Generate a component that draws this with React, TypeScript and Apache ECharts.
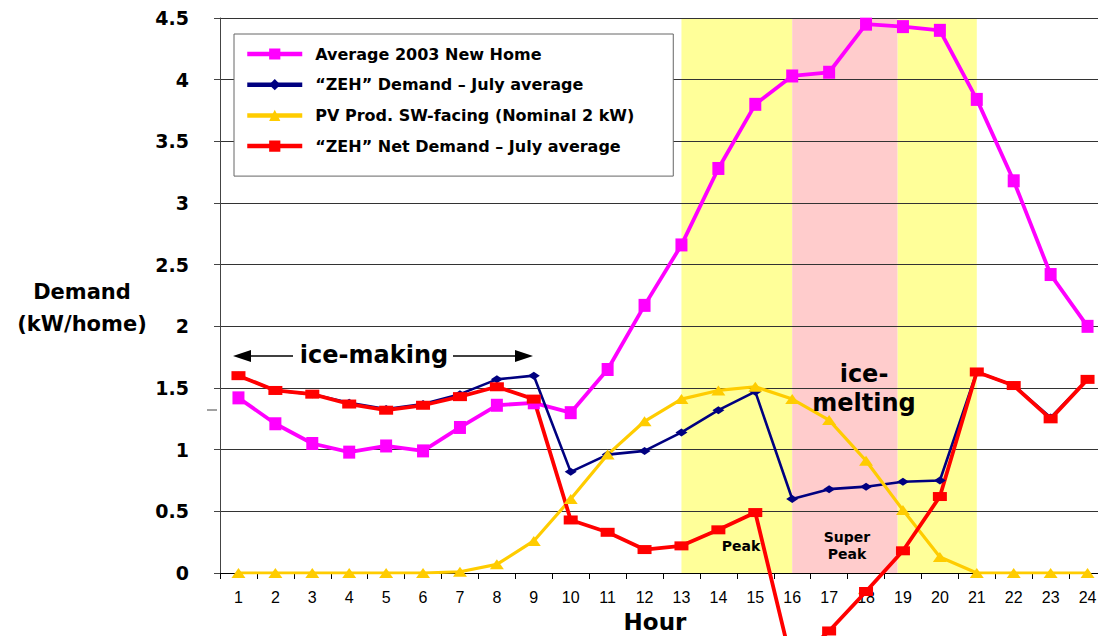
import React, { useEffect, useRef } from 'react';
import * as echarts from 'echarts';

// ---- Data ----
const hours = ['1', '2', '3', '4', '5', '6', '7', '8', '9', '10', '11', '12', '13', '14', '15', '16', '17', '18', '19', '20', '21', '22', '23', '24'];
const avgNewHome = [1.42, 1.21, 1.05, 0.98, 1.03, 0.99, 1.18, 1.36, 1.38, 1.3, 1.65, 2.17, 2.66, 3.28, 3.8, 4.03, 4.06, 4.45, 4.43, 4.4, 3.84, 3.18, 2.42, 2.0];
const zehDemand = [1.6, 1.48, 1.45, 1.38, 1.33, 1.37, 1.45, 1.57, 1.6, 0.82, 0.96, 0.99, 1.14, 1.32, 1.47, 0.6, 0.68, 0.7, 0.74, 0.75, 1.63, 1.52, 1.26, 1.57];
const pvProd = [0, 0, 0, 0, 0, 0, 0.01, 0.07, 0.26, 0.6, 0.96, 1.23, 1.41, 1.48, 1.51, 1.41, 1.24, 0.91, 0.51, 0.13, 0, 0, 0, 0];
const zehNet = [1.6, 1.48, 1.45, 1.37, 1.32, 1.36, 1.43, 1.51, 1.41, 0.43, 0.33, 0.19, 0.22, 0.35, 0.49, -0.75, -0.47, -0.15, 0.18, 0.62, 1.63, 1.52, 1.25, 1.57];

const seriesNames = [
  'Average 2003 New Home',
  '\u201CZEH\u201D Demand \u2013 July average',
  'PV Prod. SW-facing (Nominal 2 kW)',
  '\u201CZEH\u201D Net Demand \u2013 July average',
];

// time-of-use bands (hour positions)
const peakBands: [number, number][] = [[13, 16], [18.85, 21]];
const superPeakBand: [number, number] = [16, 18.85];

const yMin = 0;
const yMax = 4.5;
const yStep = 0.5;

const BOLD = 'DejaVu Sans';

export default function App() {
  const ref = useRef<HTMLDivElement>(null);

  useEffect(() => {
    if (!ref.current) return;
    const chart = echarts.init(ref.current, undefined, { renderer: 'svg' });

    const bandData: any[] = [
      ...peakBands.map(([a, b]) => [
        { xAxis: a, itemStyle: { color: '#FFFF99' } },
        { xAxis: b },
      ]),
      [
        { xAxis: superPeakBand[0], itemStyle: { color: '#FFCCCC' } },
        { xAxis: superPeakBand[1] },
      ],
    ];

    const option: any = {
      animation: false,
      grid: { left: 220, top: 18, width: 886, height: 555 },
      legend: {
        orient: 'vertical',
        left: 234,
        top: 34,
        padding: [12, 39, 22, 11],
        itemWidth: 55,
        itemHeight: 14,
        itemGap: 14.7,
        backgroundColor: '#ffffff',
        borderColor: '#666666',
        borderWidth: 1,
        data: seriesNames,
        lineStyle: { width: 4.5 },
        textStyle: {
          color: '#000',
          fontFamily: BOLD,
          fontWeight: 'bold',
          fontSize: 16,
          padding: [0, 0, 0, 8],
        },
      },
      xAxis: [
        {
          type: 'category',
          data: hours,
          boundaryGap: true,
          z: 1.5,
          axisLine: { show: true, lineStyle: { color: '#000', width: 1 } },
          axisTick: { show: true, length: 6, lineStyle: { color: '#000' } },
          axisLabel: { color: '#000', fontFamily: 'Liberation Sans', fontSize: 16, margin: 16 },
          splitLine: { show: false },
        },
        { type: 'value', min: 0.5, max: 24.5, show: false },
      ],
      yAxis: {
        type: 'value',
        min: yMin,
        max: yMax,
        interval: yStep,
        z: 1.5,
        axisLine: { show: true, lineStyle: { color: '#444', width: 1 } },
        axisTick: { show: true, length: 6, lineStyle: { color: '#444' } },
        axisLabel: { color: '#000', fontFamily: BOLD, fontWeight: 'bold', fontSize: 19, margin: 31 },
        splitLine: { show: true, lineStyle: { color: '#333', width: 1 } },
      },
      series: [
        {
          type: 'line',
          xAxisIndex: 1,
          data: [],
          silent: true,
          markArea: { silent: true, data: bandData },
        },
        {
          name: seriesNames[0],
          type: 'line',
          data: avgNewHome,
          symbol: 'rect',
          symbolSize: [12, 13],
          itemStyle: { color: '#FF00FF' },
          lineStyle: { color: '#FF00FF', width: 3.8 },
        },
        {
          name: seriesNames[1],
          type: 'line',
          data: zehDemand,
          symbol: 'diamond',
          symbolSize: [12, 8],
          itemStyle: { color: '#000080' },
          lineStyle: { color: '#000080', width: 2.6 },
        },
        {
          name: seriesNames[2],
          type: 'line',
          data: pvProd,
          symbol: 'triangle',
          symbolSize: [14, 10],
          itemStyle: { color: '#FFCC00' },
          lineStyle: { color: '#FFCC00', width: 3.2 },
        },
        {
          name: seriesNames[3],
          type: 'line',
          data: zehNet,
          clip: false,
          symbol: 'rect',
          symbolSize: [14, 9],
          itemStyle: { color: '#FF0000' },
          lineStyle: { color: '#FF0000', width: 3.8 },
        },
      ],
      graphic: [
        {
          type: 'text', x: 82, y: 308, z: 100,
          style: { text: 'Demand\n(kW/home)', align: 'center', verticalAlign: 'middle', fontFamily: BOLD, fontWeight: 'bold', fontSize: 21, lineHeight: 32, fill: '#000' },
        },
        {
          type: 'text', x: 655, y: 622, z: 100,
          style: { text: 'Hour', align: 'center', verticalAlign: 'middle', fontFamily: BOLD, fontWeight: 'bold', fontSize: 23, fill: '#000' },
        },
        {
          type: 'text', x: 374, y: 355, z: 100,
          style: { text: 'ice-making', align: 'center', verticalAlign: 'middle', fontFamily: BOLD, fontWeight: 'bold', fontSize: 24, fill: '#000' },
        },
        { type: 'line', z: 100, shape: { x1: 248, y1: 356, x2: 293, y2: 356 }, style: { stroke: '#000', lineWidth: 1.5 } },
        { type: 'polygon', z: 100, shape: { points: [[233, 356], [251, 350], [251, 362]] }, style: { fill: '#000' } },
        { type: 'line', z: 100, shape: { x1: 453, y1: 356, x2: 518, y2: 356 }, style: { stroke: '#000', lineWidth: 1.5 } },
        { type: 'polygon', z: 100, shape: { points: [[533, 356], [515, 350], [515, 362]] }, style: { fill: '#000' } },
        {
          type: 'text', x: 864, y: 388, z: 100,
          style: { text: 'ice-\nmelting', align: 'center', verticalAlign: 'middle', fontFamily: BOLD, fontWeight: 'bold', fontSize: 24, lineHeight: 29, fill: '#000' },
        },
        {
          type: 'text', x: 741, y: 546, z: 100,
          style: { text: 'Peak', align: 'center', verticalAlign: 'middle', fontFamily: BOLD, fontWeight: 'bold', fontSize: 14, fill: '#000' },
        },
        {
          type: 'text', x: 847, y: 545, z: 100,
          style: { text: 'Super\nPeak', align: 'center', verticalAlign: 'middle', fontFamily: BOLD, fontWeight: 'bold', fontSize: 14, lineHeight: 17, fill: '#000' },
        },
        { type: 'line', z: 100, shape: { x1: 207, y1: 410, x2: 217, y2: 410 }, style: { stroke: '#444', lineWidth: 1 } },
      ],
    };

    chart.setOption(option);
    return () => chart.dispose();
  }, []);

  return (
    <div style={{ position: 'absolute', left: 0, top: 0, width: 1098, height: 636, overflow: 'hidden', background: '#fff' }}>
      <div ref={ref} style={{ width: 1120, height: 636 }} />
    </div>
  );
}
